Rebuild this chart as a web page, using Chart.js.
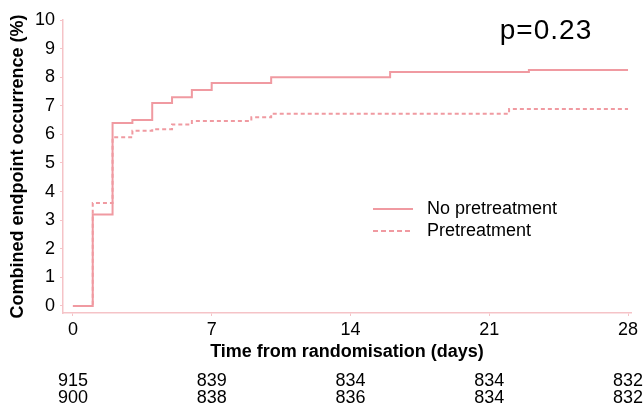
<!DOCTYPE html>
<html>
<head>
<meta charset="utf-8">
<script src="https://cdn.jsdelivr.net/npm/chart.js@4/dist/chart.umd.min.js"></script>
<style>
  html, body { margin: 0; padding: 0; background: #fff; }
  #wrap { width: 644px; height: 409px; position: relative; }
</style>
</head>
<body>
<div id="wrap"><canvas id="c"></canvas></div>
<script>
// ---- data ----
const noPreDays   = [0, 1, 2, 3, 4, 5, 6, 7, 10, 16, 23, 28];
const noPreValues = [0, 3.2, 6.4, 6.5, 7.1, 7.3, 7.55, 7.8, 8.0, 8.18, 8.25, 8.25];
const preDays     = [0, 1, 2, 3, 4, 5, 6, 9, 10, 22, 28];
const preValues   = [0, 3.6, 5.9, 6.13, 6.18, 6.35, 6.47, 6.6, 6.72, 6.89, 6.89];
const xTicks = [0, 7, 14, 21, 28];
const yTicks = [0, 1, 2, 3, 4, 5, 6, 7, 8, 9, 10];
const riskDays = [0, 7, 14, 21, 28];
const riskNoPre = [915, 839, 834, 834, 832];
const riskPre   = [900, 838, 836, 834, 832];
const seriesNames = ['No pretreatment', 'Pretreatment'];
const pValueText = 'p=0.23';

const LINE = '#f09aa1';
const AXIS = '#f5c3c7';
const FONT = "'Liberation Sans', Arial, sans-serif";

const toPts = (xs, ys) => xs.map((x, i) => ({ x: x, y: ys[i] }));

const overlay = {
  id: 'overlay',
  afterDraw(chart) {
    const ctx = chart.ctx;
    const xs = chart.scales.x;
    ctx.save();
    // p-value
    ctx.fillStyle = '#000';
    ctx.font = '28px ' + FONT;
    try { ctx.letterSpacing = '1px'; } catch (e) {}
    ctx.textAlign = 'center';
    ctx.textBaseline = 'alphabetic';
    ctx.fillText(pValueText, 546, 39);
    try { ctx.letterSpacing = '0px'; } catch (e) {}
    // legend
    ctx.font = '18px ' + FONT;
    ctx.textAlign = 'left';
    ctx.textBaseline = 'middle';
    ctx.strokeStyle = LINE;
    ctx.lineWidth = 2;
    ctx.setLineDash([]);
    ctx.beginPath(); ctx.moveTo(373, 209); ctx.lineTo(413, 209); ctx.stroke();
    ctx.fillText(seriesNames[0], 427, 209);
    ctx.setLineDash([5, 3]);
    ctx.beginPath(); ctx.moveTo(373, 231); ctx.lineTo(413, 231); ctx.stroke();
    ctx.setLineDash([]);
    ctx.fillText(seriesNames[1], 427, 231);
    // number at risk
    ctx.textAlign = 'center';
    riskDays.forEach((d, i) => {
      const px = xs.getPixelForValue(d);
      ctx.fillText(String(riskNoPre[i]), px, 381);
      ctx.fillText(String(riskPre[i]), px, 398);
    });
    ctx.restore();
  }
};

new Chart(document.getElementById('c'), {
  type: 'line',
  data: {
    datasets: [
      {
        label: seriesNames[0],
        data: toPts(noPreDays, noPreValues),
        borderColor: LINE,
        borderWidth: 2,
        pointRadius: 0,
        stepped: true,
        fill: false
      },
      {
        label: seriesNames[1],
        data: toPts(preDays, preValues),
        borderColor: LINE,
        borderWidth: 2,
        borderDash: [4, 3],
        pointRadius: 0,
        stepped: true,
        fill: false
      }
    ]
  },
  options: {
    responsive: true,
    maintainAspectRatio: false,
    animation: false,
    devicePixelRatio: 1,
    layout: { padding: { top: 20, right: 13, left: 0, bottom: 0 } },
    plugins: {
      legend: { display: false },
      tooltip: { enabled: false }
    },
    scales: {
      x: {
        type: 'linear',
        min: -0.5,
        max: 28.15,
        afterBuildTicks: (s) => { s.ticks = xTicks.map(v => ({ value: v })); },
        afterFit: (s) => { s.height = 96; },
        grid: { display: true, drawOnChartArea: false, drawTicks: true, tickLength: 3, color: AXIS },
        border: { display: true, color: AXIS, width: 1.5 },
        ticks: { color: '#000', font: { family: FONT, size: 18 }, padding: 3, maxRotation: 0, autoSkip: false },
        title: {
          display: true,
          text: 'Time from randomisation (days)',
          color: '#000',
          font: { family: FONT, size: 18, weight: 'bold' },
          padding: { top: 0, bottom: 46 }
        }
      },
      y: {
        type: 'linear',
        min: -0.245,
        max: 10,
        afterBuildTicks: (s) => { s.ticks = yTicks.map(v => ({ value: v })); },
        afterFit: (s) => { s.width = 63; },
        grid: { display: true, drawOnChartArea: false, drawTicks: true, tickLength: 3, color: AXIS },
        border: { display: true, color: AXIS, width: 1.5 },
        ticks: { color: '#000', font: { family: FONT, size: 18 }, padding: 5, autoSkip: false },
        title: {
          display: true,
          text: 'Combined endpoint occurrence (%)',
          color: '#000',
          font: { family: FONT, size: 18, weight: 'bold' },
          padding: { top: 7, bottom: 0 }
        }
      }
    }
  },
  plugins: [overlay]
});
</script>
</body>
</html>
